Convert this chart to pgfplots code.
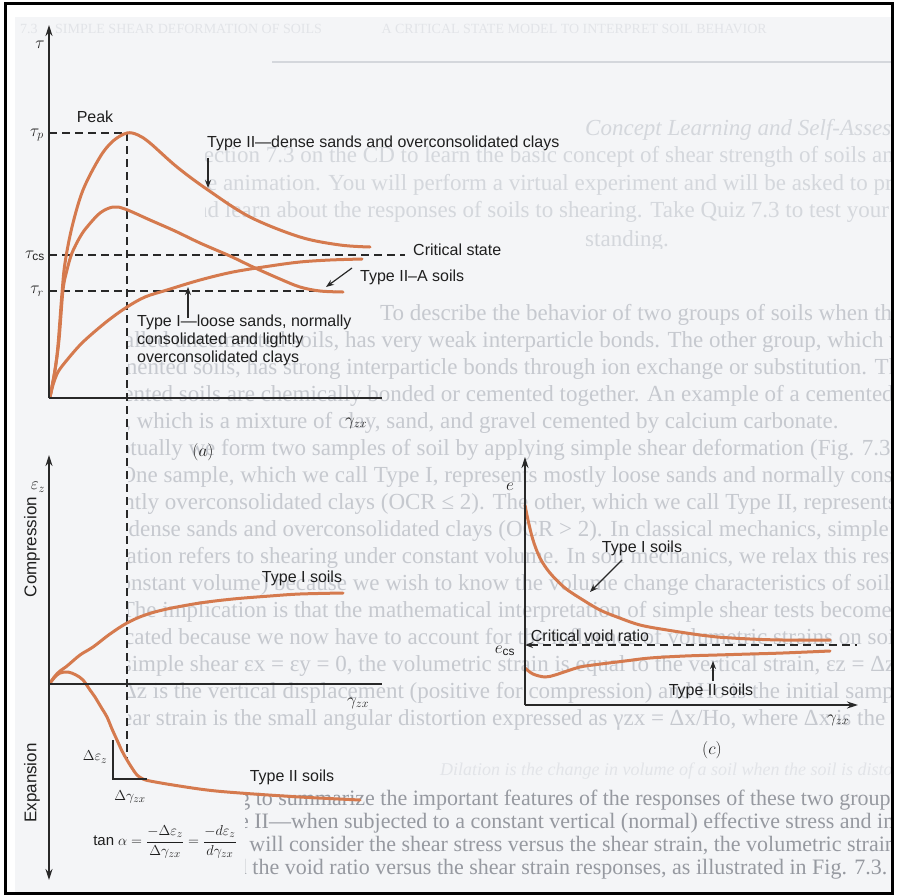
\documentclass[border=0pt]{standalone}
\usepackage{pgfplots}
\pgfplotsset{compat=1.18}
\usepackage{fontspec}
\setmainfont{Liberation Sans}
\setsansfont{Liberation Sans}
\newfontfamily\bgfont{Liberation Serif}
\usetikzlibrary{arrows.meta}
\definecolor{curve}{RGB}{213,122,78}
\definecolor{axc}{RGB}{40,40,40}
\definecolor{pagebg}{RGB}{244,245,247}
\definecolor{bgA}{RGB}{212,215,220}
\definecolor{bgB}{RGB}{198,201,207}
\definecolor{bgC}{RGB}{150,153,160}
\definecolor{bgD}{RGB}{226,228,232}
\tikzset{
  crv/.style={curve, line width=3pt, line cap=round, smooth, tension=0.55},
  axl/.style={axc, line width=1.6pt},
  dsh/.style={axc, line width=1.5pt, dash pattern=on 8pt off 5pt},
  arr/.style={axc, line width=1.2pt, -{Stealth[length=8pt,width=6pt]}},
  lbl/.style={text=black!88, inner sep=0pt, font=\fontsize{16}{18}\selectfont},
  mth/.style={text=black!88, inner sep=0pt, font=\fontsize{17}{19}\selectfont},
  bgrow/.style={anchor=base west, inner sep=0pt, font=\bgfont\fontsize{23}{27}\selectfont},
  bgrowb/.style={anchor=base west, inner sep=0pt, font=\bgfont\fontsize{22}{23}\selectfont},
}
\begin{document}
\begin{tikzpicture}[x=1pt,y=1pt]
\path[use as bounding box] (0,0) rectangle (899,-896);
\fill[white] (0,0) rectangle (899,-896);
\fill[pagebg] (15,-17) rectangle (892,-892);

% ---------- faint page text behind the figure ----------
\begin{scope}
\clip (15,-17) rectangle (891,-891);
\node[anchor=base west, inner sep=0pt, text=bgD, font=\bgfont\fontsize{14}{14}\selectfont] at (20,-34) {7.3 \quad SIMPLE SHEAR DEFORMATION OF SOILS \qquad\qquad A CRITICAL STATE MODEL TO INTERPRET SOIL BEHAVIOR};
\draw[bgA, line width=1.6pt] (272,-62) -- (891,-62);
\end{scope}

\begin{scope}
\clip (205,-110) rectangle (891,-248);
\node[bgrow, text=bgA] at (585,-136) {\itshape Concept Learning and Self-Assessment};
\node[bgrow, text=bgA] at (120,-163) {Access Section 7.3 on the CD to learn the basic concept of shear strength of soils and use the};
\node[bgrow, text=bgA] at (120,-191) {interactive animation. You will perform a virtual experiment and will be asked to predict the};
\node[bgrow, text=bgA] at (120,-218) {results and learn about the responses of soils to shearing. Take Quiz 7.3 to test your under-};
\node[bgrow, text=bgA] at (585,-246) {standing.};
\end{scope}

\begin{scope}
\clip (128,-290) rectangle (891,-745);
\node[bgrow, text=bgB] at (380,-320) {To describe the behavior of two groups of soils when they are subjected};
\node[bgrow, text=bgB] at (60,-347) {soils, called uncemented soils, has very weak interparticle bonds. The other group, which we};
\node[bgrow, text=bgB] at (60,-374) {call cemented soils, has strong interparticle bonds through ion exchange or substitution. The};
\node[bgrow, text=bgB] at (60,-401) {of cemented soils are chemically bonded or cemented together. An example of a cemented soil is};
\node[bgrow, text=bgB] at (60,-428) {caliche, which is a mixture of clay, sand, and gravel cemented by calcium carbonate.};
\node[bgrow, text=bgB] at (60,-455) {Conceptually we form two samples of soil by applying simple shear deformation (Fig. 7.3) to};
\node[bgrow, text=bgB] at (60,-482) {them. One sample, which we call Type I, represents mostly loose sands and normally consolidated};
\node[bgrow, text=bgB] at (60,-509) {and lightly overconsolidated clays (OCR ≤ 2). The other, which we call Type II, represents};
\node[bgrow, text=bgB] at (60,-536) {mostly dense sands and overconsolidated clays (OCR > 2). In classical mechanics, simple shear};
\node[bgrow, text=bgB] at (60,-563) {deformation refers to shearing under constant volume. In soil mechanics, we relax this restric-};
\node[bgrow, text=bgB] at (60,-590) {tion (constant volume) because we wish to know the volume change characteristics of soils under};
\node[bgrow, text=bgB] at (60,-617) {shear. The implication is that the mathematical interpretation of simple shear tests becomes};
\node[bgrow, text=bgB] at (60,-644) {complicated because we now have to account for the influence of volumetric strains on soil behav-};
\node[bgrow, text=bgB] at (60,-671) {ior. In simple shear εx = εy = 0, the volumetric strain is equal to the vertical strain, εz = Δz/Ho,};
\node[bgrow, text=bgB] at (60,-698) {where Δz is the vertical displacement (positive for compression) and Ho is the initial sample height.};
\node[bgrow, text=bgB] at (60,-725) {The shear strain is the small angular distortion expressed as γzx = Δx/Ho, where Δx is the horizontal};
\end{scope}

\begin{scope}
\clip (245,-745) rectangle (891,-891);
\node[anchor=base west, inner sep=0pt, text=bgD, font=\bgfont\itshape\fontsize{18}{20}\selectfont] at (440,-775) {Dilation is the change in volume of a soil when the soil is distorted by shearing.};
\node[bgrowb, text=bgC] at (200,-805) {going to summarize the important features of the responses of these two groups (Type I and};
\node[bgrowb, text=bgC] at (205,-828) {Type II—when subjected to a constant vertical (normal) effective stress and increasing shear};
\node[bgrowb, text=bgC] at (215,-851) {We will consider the shear stress versus the shear strain, the volumetric strain versus the};
\node[bgrowb, text=bgC] at (215,-874) {and the void ratio versus the shear strain responses, as illustrated in Fig. 7.3.};
\end{scope}

% ---------- panel (a) ----------
\begin{axis}[at={(49,-398)}, anchor=south west, scale only axis,
  width=340pt, height=373pt, xmin=0, xmax=340, ymin=0, ymax=373,
  axis lines=none, clip=false]
\draw[dsh] (axis cs:0,265) -- (axis cs:78,265);
\draw[dsh] (axis cs:78,265) -- (axis cs:78,-362);
\draw[dsh] (axis cs:0,143) -- (axis cs:356,143);
\draw[dsh] (axis cs:0,107) -- (axis cs:286,107);
% Type II (dense)
\addplot[crv] coordinates {(1,1) (6,28) (9,53) (13,105) (16,135) (23,171) (34,208) (51,241) (64,257) (78,265) (89,263) (101,255) (128,231) (159,208) (201,181) (251,161) (291,153) (321,151)};
% Type II-A
\addplot[crv] coordinates {(1,1) (6,28) (10,58) (14,108) (18,128) (23,145) (31,161) (38,171) (51,185) (64,191) (76,189) (101,178) (126,167) (151,155) (181,142) (204,131) (231,119) (251,111) (271,107) (294,106)};
% Type I (loose)
\addplot[crv] coordinates {(1,1) (4,13) (9,26) (18,38) (31,53) (44,65) (61,79) (78,91) (96,101) (118,108) (151,118) (184,126) (221,132) (251,136) (281,138) (313,139)};
\draw[axl, -{Stealth[length=11pt,width=7pt]}] (axis cs:0,0) -- (axis cs:0,373);
\draw[axl] (axis cs:0,0) -- (axis cs:333,0);
\end{axis}

% ---------- panel (b) ----------
\begin{axis}[at={(49,-880)}, anchor=south west, scale only axis,
  width=333pt, height=425pt, xmin=0, xmax=333, ymin=-196, ymax=229,
  axis lines=none, clip=false]
% Type I
\addplot[crv] coordinates {(1,1) (6,8) (11,13) (18,18) (31,29) (44,37) (61,50) (78,61) (96,69) (118,75) (151,81) (184,85) (221,88) (251,90) (294,91)};
% Type II
\addplot[crv] coordinates {(1,1) (6,7) (11,11) (19,12) (27,9) (34,4) (41,-6) (46,-13) (52,-23) (58,-33) (63,-45) (68,-56) (73,-67) (78,-76) (83,-84) (88,-91) (94,-95) (101,-97) (124,-101) (158,-106) (191,-109) (251,-113) (311,-116)};
\draw[axc, line width=1.4pt] (axis cs:64,-56) -- (axis cs:64,-95) -- (axis cs:98,-95);
\draw[axl, {Stealth[length=11pt,width=7pt]}-{Stealth[length=11pt,width=7pt]}] (axis cs:0,-196) -- (axis cs:0,229);
\draw[axl] (axis cs:0,0) -- (axis cs:333,0);
\end{axis}

% ---------- panel (c) ----------
\begin{axis}[at={(525,-705)}, anchor=south west, scale only axis,
  width=333pt, height=248pt, xmin=0, xmax=333, ymin=0, ymax=248,
  axis lines=none, clip=false]
\draw[dsh, {Stealth[length=8pt,width=6pt]}-] (axis cs:0,60) -- (axis cs:332,60);
% Type I
\addplot[crv] coordinates {(0,200) (3,185) (8,165) (15,147) (25,132) (40,117) (58,105) (75,95) (92,88) (115,80) (142,75) (175,70) (192,68) (225,66) (258,65) (305,65)};
% Type II
\addplot[crv] coordinates {(0,37) (8,31) (20,28) (30,30) (42,34) (55,38) (68,40) (100,44) (125,47) (160,49) (192,50) (225,51) (258,52) (305,54)};
\draw[axl, -{Stealth[length=11pt,width=7pt]}] (axis cs:0,0) -- (axis cs:0,248);
\draw[axl, -{Stealth[length=11pt,width=7pt]}] (axis cs:0,0) -- (axis cs:333,0);
\end{axis}

% ---------- labels panel (a) ----------
\node[mth] at (40,-45) {$\tau$};
\node[lbl] at (95,-117) {Peak};
\node[mth, anchor=east] at (44,-135) {$\tau_p$};
\node[mth, anchor=east] at (45,-256) {$\tau_{\mathsf{cs}}$};
\node[mth, anchor=east] at (44,-291) {$\tau_r$};
\node[lbl, anchor=west] at (207,-143) {Type II—dense sands and overconsolidated clays};
\draw[arr] (208,-158) -- (208,-188);
\node[lbl, anchor=west] at (413,-250) {Critical state};
\node[lbl, anchor=west] at (360,-277) {Type II–A soils};
\draw[arr] (352,-268) -- (326,-287);
\draw[arr] (188,-318) -- (188,-287);
\node[lbl, anchor=west, align=left] at (137,-340) {Type I—loose sands, normally\\consolidated and lightly\\overconsolidated clays};
\node[mth] at (356,-423) {$\gamma_{zx}$};
\node[mth] at (203,-452) {$(a)$};

% ---------- labels panel (b) ----------
\node[mth] at (38,-487) {$\varepsilon_z$};
\node[lbl, rotate=90, font=\fontsize{17}{19}\selectfont] at (32,-547) {Compression};
\node[lbl, rotate=90, font=\fontsize{17}{19}\selectfont] at (32,-783) {Expansion};
\node[lbl] at (302,-578) {Type I soils};
\node[lbl] at (292,-777) {Type II soils};
\node[mth] at (358,-703) {$\gamma_{zx}$};
\node[mth, font=\fontsize{15}{17}\selectfont] at (95,-757) {$\Delta\varepsilon_z$};
\node[mth, font=\fontsize{15}{17}\selectfont] at (130,-797) {$\Delta\gamma_{zx}$};
\node[mth, font=\fontsize{15}{17}\selectfont] at (165,-842) {$\mbox{tan}\;\alpha = \displaystyle\frac{-\Delta\varepsilon_z}{\Delta\gamma_{zx}} = \frac{-d\varepsilon_z}{d\gamma_{zx}}$};

% ---------- labels panel (c) ----------
\node[mth] at (510,-487) {$e$};
\node[mth] at (505,-651) {$e_{\mathsf{cs}}$};
\node[lbl] at (642,-548) {Type I soils};
\draw[arr] (622,-560) -- (590,-592);
\node[lbl] at (590,-636) {Critical void ratio};
\draw[arr] (713,-681) -- (713,-661);
\node[lbl] at (711,-691) {Type II soils};
\node[mth] at (838,-720) {$\gamma_{zx}$};
\node[mth] at (712,-750) {$(c)$};

% frame
\draw[black, line width=3pt] (5.5,-3.5) rectangle (892.5,-893.5);
\end{tikzpicture}
\end{document}
